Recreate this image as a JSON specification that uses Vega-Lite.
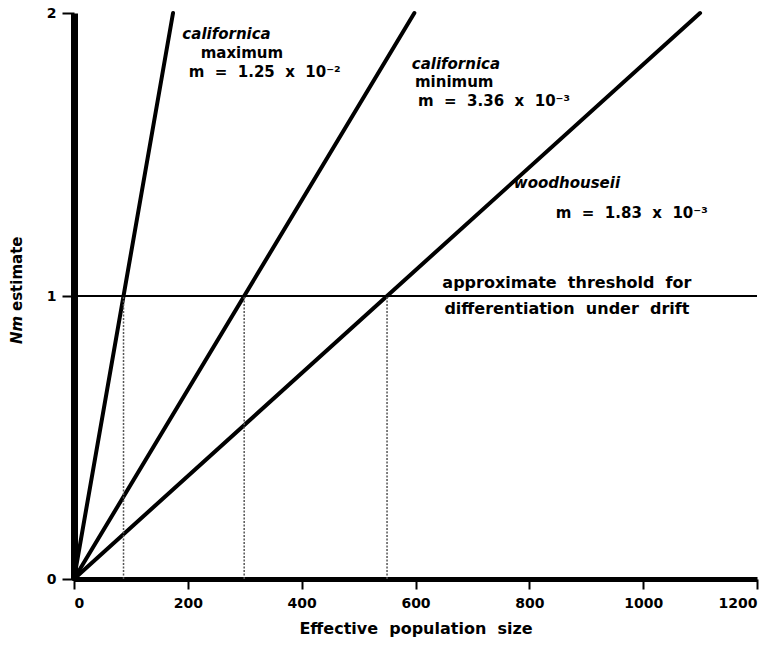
{
  "$schema": "https://vega.github.io/schema/vega-lite/v6.json",
  "autosize": {"type": "none"},
  "width": 683,
  "height": 566,
  "padding": {"left": 74, "top": 13, "right": 19, "bottom": 70},
  "background": "white",
  "config": {
    "view": {"stroke": null},
    "font": "DejaVu Sans",
    "text": {"font": "DejaVu Sans", "fontWeight": "bold", "fontSize": 15, "color": "black"}
  },
  "datasets": {
    "lines": [
      {"series": "californica maximum", "N": 0, "Nm": 0},
      {"series": "californica maximum", "N": 174, "Nm": 2},
      {"series": "californica minimum", "N": 0, "Nm": 0},
      {"series": "californica minimum", "N": 598, "Nm": 2},
      {"series": "woodhouseii", "N": 0, "Nm": 0},
      {"series": "woodhouseii", "N": 1100, "Nm": 2}
    ],
    "drops": [
      {"series": "californica maximum", "N": 87, "lo": 0, "hi": 1},
      {"series": "californica minimum", "N": 299, "lo": 0, "hi": 1},
      {"series": "woodhouseii", "N": 550, "lo": 0, "hi": 1}
    ],
    "threshold": [{"N": 0, "N2": 1200, "Nm": 1}],
    "italic": [
      {"x": 268, "y": 1.925, "label": "californica"},
      {"x": 671, "y": 1.82, "label": "californica"},
      {"x": 866, "y": 1.40, "label": "woodhouseii"}
    ],
    "plain": [
      {"x": 295, "y": 1.86, "label": "maximum"},
      {"x": 668, "y": 1.757, "label": "minimum"}
    ],
    "thresh_text": [
      {"x": 866, "y": 1.046, "label": "approximate\u00a0 threshold\u00a0 for"},
      {"x": 866, "y": 0.955, "label": "differentiation\u00a0 under\u00a0 drift"}
    ],
    "mline": [
      {"x": 335, "y": 1.79, "label": "m\u00a0 =\u00a0 1.25\u00a0 x\u00a0 10\u207b\u00b2"},
      {"x": 738, "y": 1.69, "label": "m\u00a0 =\u00a0 3.36\u00a0 x\u00a0 10\u207b\u00b3"},
      {"x": 980, "y": 1.295, "label": "m\u00a0 =\u00a0 1.83\u00a0 x\u00a0 10\u207b\u00b3"}
    ],
    "ytitle_it": [{"x": -100, "y": 0.83, "label": "Nm"}],
    "ytitle": [{"x": -100, "y": 0.947, "label": "estimate"}]
  },
  "layer": [
    {
      "data": {"name": "lines"},
      "mark": {"type": "line", "color": "black", "strokeWidth": 4, "strokeCap": "round"},
      "encoding": {
        "x": {"field": "N", "type": "quantitative", "scale": {"domain": [0, 1200], "nice": false},
          "axis": {"values": [0, 200, 400, 600, 800, 1000, 1200], "labelExpr": "'' + datum.value", "grid": false, "domainWidth": 5, "domainColor": "black",
            "tickColor": "black", "tickWidth": 2, "tickSize": 10, "labelFont": "DejaVu Sans", "labelFontWeight": "bold",
            "labelFontSize": 14, "labelColor": "black", "labelPadding": 7, "labelOverlap": false, "title": "Effective\u00a0 population\u00a0 size",
            "titleFont": "DejaVu Sans", "titleFontWeight": "bold", "titleFontSize": 16, "titleColor": "black", "titlePadding": 10}},
        "y": {"field": "Nm", "type": "quantitative", "scale": {"domain": [0, 2], "nice": false},
          "axis": {"values": [0, 1, 2], "labelExpr": "'' + datum.value", "grid": false, "domainWidth": 7, "domainColor": "black", "tickColor": "black",
            "tickWidth": 2, "tickSize": 12, "labelFont": "DejaVu Sans", "labelFontWeight": "bold", "labelFontSize": 14,
            "labelColor": "black", "labelPadding": 6, "labelOverlap": false, "title": null}},
        "detail": {"field": "series"}
      }
    },
    {
      "data": {"name": "threshold"},
      "mark": {"type": "rule", "color": "black", "strokeWidth": 2},
      "encoding": {
        "x": {"field": "N", "type": "quantitative"},
        "x2": {"field": "N2"},
        "y": {"field": "Nm", "type": "quantitative"}
      }
    },
    {
      "data": {"name": "drops"},
      "mark": {"type": "rule", "color": "#555", "strokeWidth": 1.5, "strokeDash": [2, 1.5]},
      "encoding": {
        "x": {"field": "N", "type": "quantitative"},
        "y": {"field": "lo", "type": "quantitative"},
        "y2": {"field": "hi"}
      }
    },
    {
      "data": {"name": "italic"},
      "mark": {"type": "text", "fontStyle": "italic", "align": "center", "baseline": "middle"},
      "encoding": {
        "x": {"field": "x", "type": "quantitative"},
        "y": {"field": "y", "type": "quantitative"},
        "text": {"field": "label"}
      }
    },
    {
      "data": {"name": "plain"},
      "mark": {"type": "text", "align": "center", "baseline": "middle"},
      "encoding": {
        "x": {"field": "x", "type": "quantitative"},
        "y": {"field": "y", "type": "quantitative"},
        "text": {"field": "label"}
      }
    },
    {
      "data": {"name": "thresh_text"},
      "mark": {"type": "text", "align": "center", "baseline": "middle", "fontSize": 16},
      "encoding": {
        "x": {"field": "x", "type": "quantitative"},
        "y": {"field": "y", "type": "quantitative"},
        "text": {"field": "label"}
      }
    },
    {
      "data": {"name": "mline"},
      "mark": {"type": "text", "align": "center", "baseline": "middle"},
      "encoding": {
        "x": {"field": "x", "type": "quantitative"},
        "y": {"field": "y", "type": "quantitative"},
        "text": {"field": "label"}
      }
    },
    {
      "data": {"name": "ytitle_it"},
      "mark": {"type": "text", "align": "left", "baseline": "middle", "angle": 270, "fontStyle": "italic", "fontSize": 15},
      "encoding": {
        "x": {"field": "x", "type": "quantitative"},
        "y": {"field": "y", "type": "quantitative"},
        "text": {"field": "label"}
      }
    },
    {
      "data": {"name": "ytitle"},
      "mark": {"type": "text", "align": "left", "baseline": "middle", "angle": 270, "fontSize": 15},
      "encoding": {
        "x": {"field": "x", "type": "quantitative"},
        "y": {"field": "y", "type": "quantitative"},
        "text": {"field": "label"}
      }
    }
  ]
}
